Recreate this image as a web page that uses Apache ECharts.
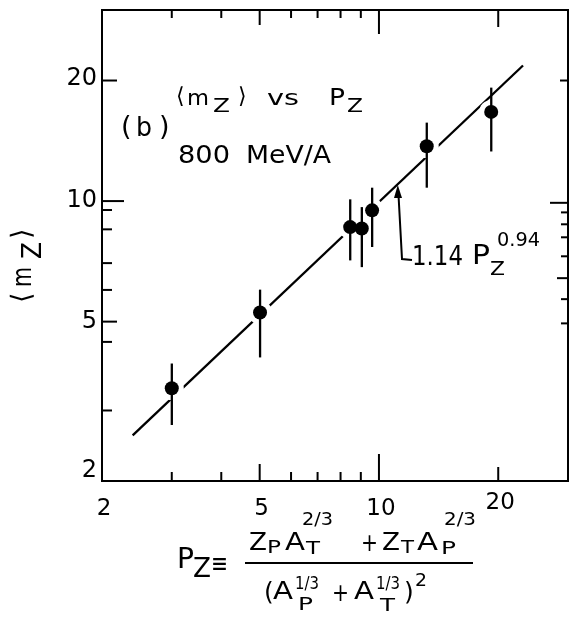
<!DOCTYPE html>
<html><head><meta charset="utf-8">
<script src="https://cdn.jsdelivr.net/npm/echarts@6/dist/echarts.min.js"></script>
<style>html,body{margin:0;padding:0;background:#fff}#c{width:570px;height:618px}</style>
</head><body><div id="c"></div>
<script>
// ---- data ----
const pzValues   = [3.00, 5.01, 8.46, 9.05, 9.61, 13.2, 19.2];
const mzValues   = [3.41, 5.27, 8.61, 8.54, 9.48, 13.7, 16.7];
const mzLow      = [2.76, 4.07, 7.11, 6.84, 7.68, 10.8, 13.3];
const mzHigh     = [3.93, 6.01, 10.1, 9.66, 10.8, 15.7, 19.2];
const fitPz      = [2.39, 23.1];
const fitMz      = [2.60, 21.8];
const xTickVals  = [3, 4, 5, 6, 7, 8, 9, 10, 20];
const xLabelVals = [2, 5, 10, 20];
const xLabels    = ['2', '5', '10', '20'];
const yLeftTicks = [3, 4.45, 5, 6, 7, 8.5, 9.5, 10, 20];
const yRightTicks= [4.95, 5.69, 6.42, 7.28, 8.12, 8.75, 9.37, 9.9, 20];
const yLabelVals = [2, 5, 10, 20];
const yLabels    = ['2', '5', '10', '20'];
const X_MIN = 2, X_MAX = 30, Y_MIN = 2, Y_MAX = 30;

const FONT = 'DejaVu Sans';
const chart = echarts.init(document.getElementById('c'), null, {renderer: 'canvas'});

const mctx = document.createElement('canvas').getContext('2d');
function measure(text, size) { mctx.font = size + 'px "' + FONT + '"'; return mctx.measureText(text).width || size * 0.6; }
function txtStyle(text, size, align) {
  return {text: text, x: 0, y: 0, align: align || 'left', verticalAlign: 'middle', font: size + 'px "' + FONT + '"', fill: '#000'};
}
function T(text, x, y, size, w) {
  const sx = w ? w / measure(text, size) : 1;
  return {type: 'text', x: x, y: y, z: 20, scaleX: sx, style: txtStyle(text, size)};
}

// tick / label table: [x, y, side(0 bottom,1 top,2 left,3 right,4 x label,5 y label), length, labelIndex]
const tickRows = [];
xTickVals.forEach(v => {
  tickRows.push([v, Y_MIN, 0, v === 10 ? 27 : v === 5 ? 17 : v === 20 ? 14 : 9, -1]);
  tickRows.push([v, Y_MAX, 1, v === 10 ? 24 : v === 5 ? 15 : v === 20 ? 17 : 8, -1]);
});
yLeftTicks.forEach(v => tickRows.push([X_MIN, v, 2, v === 10 ? 22 : (v === 5 || v === 20) ? 15 : 10, -1]));
yRightTicks.forEach(v => tickRows.push([X_MAX, v, 3, v === 9.9 ? 18 : v === 6.42 ? 11 : v === 20 ? 8 : 7, -1]));
xLabelVals.forEach((v, i) => tickRows.push([v, Y_MIN, 4, 0, i]));
yLabelVals.forEach((v, i) => tickRows.push([X_MIN, v, 5, 0, i]));

const graphics = [
  T('\u27E8', 176, 97, 22),
  T('m', 187, 99, 22, 22),
  T('Z', 213, 107, 19, 17),
  T('\u27E9', 238, 97, 22),
  T('vs', 267, 99, 22, 32),
  T('P', 329, 99, 23, 16),
  T('Z', 347, 107, 19, 16),
  T('(', 121, 128, 27),
  T('b', 136, 129, 26, 16),
  T(')', 159, 128, 27),
  T('800', 178, 157, 24, 52),
  T('MeV/A', 246, 157, 24, 85),
  T('1.14', 412, 258, 26, 51),
  T('P', 472, 257, 26, 18),
  T('Z', 490, 270, 19, 15),
  T('0.94', 497, 241, 19, 43),
  {type: 'polyline', z: 20, shape: {points: [[412, 260], [402, 259], [398.5, 195]]}, style: {stroke: '#000', lineWidth: 2, fill: null}},
  {type: 'polygon', z: 20, shape: {points: [[397.8, 185], [394, 198], [402, 198]]}, style: {fill: '#000'}},
  {type: 'group', x: 23, y: 302, rotation: Math.PI / 2, z: 20, children: [
    {type: 'text', x: -1, y: 0, style: txtStyle('\u27E8', 27)},
    {type: 'text', x: 15, y: 1, scaleX: 20 / measure('m', 27), style: txtStyle('m', 27)},
    {type: 'text', x: 43, y: 11, scaleX: 17 / measure('Z', 26), style: txtStyle('Z', 26)},
    {type: 'text', x: 63, y: 0, style: txtStyle('\u27E9', 27)}
  ]},
  T('P', 177, 561, 28, 17),
  T('Z', 193, 570, 26, 18),
  T('\u2261', 211, 565, 26, 17),
  {type: 'rect', z: 20, shape: {x: 245, y: 562, width: 228, height: 2}, style: {fill: '#000'}},
  T('Z', 249, 544, 24, 18),
  T('P', 267, 548, 18, 14),
  T('A', 285, 544, 24, 20),
  T('T', 306, 549, 18, 14),
  T('2/3', 302, 520, 18, 31),
  T('+', 361, 545, 24, 17),
  T('Z', 382, 544, 24, 18),
  T('T', 401, 548, 18, 13),
  T('A', 417, 544, 24, 21),
  T('P', 441, 549, 18, 15),
  T('2/3', 444, 520, 18, 32),
  T('(', 264, 593, 25),
  T('A', 273, 593, 24, 20),
  T('1/3', 295, 585, 17, 24),
  T('P', 298, 605, 18, 15),
  T('+', 332, 595, 24, 17),
  T('A', 354, 593, 24, 20),
  T('1/3', 376, 585, 17, 24),
  T('T', 380, 606, 18, 15),
  T(')', 404, 593, 25),
  T('2', 415, 581, 18, 12)
];

const option = {
  backgroundColor: '#fff',
  animation: false,
  grid: {left: 102, right: 2, top: 10, bottom: 137, show: true, borderColor: '#000', borderWidth: 2, backgroundColor: 'transparent'},
  xAxis: {type: 'log', logBase: 10, min: X_MIN, max: X_MAX, axisLine: {show: false}, axisTick: {show: false}, axisLabel: {show: false}, splitLine: {show: false}},
  yAxis: {type: 'log', logBase: 10, min: Y_MIN, max: Y_MAX, axisLine: {show: false}, axisTick: {show: false}, axisLabel: {show: false}, splitLine: {show: false}},
  graphic: graphics,
  series: [
    {type: 'line', data: fitPz.map((x, i) => [x, fitMz[i]]), symbol: 'none', lineStyle: {color: '#000', width: 2.3}, z: 2, silent: true},
    // white gaps in the fit line around each data point
    {type: 'custom', z: 3, silent: true, clip: false,
      data: pzValues.map((x, i) => [x, mzValues[i]]),
      renderItem: (params, api) => {
        const c = api.coord([api.value(0), api.value(1)]);
        return {type: 'group', children: [
          {type: 'circle', shape: {cx: c[0], cy: c[1], r: 12}, style: {fill: '#fff'}}
        ]};
      }},
    // error bars and filled markers
    {type: 'custom', z: 4, silent: true, clip: false,
      data: pzValues.map((x, i) => [x, mzValues[i], mzLow[i], mzHigh[i]]),
      renderItem: (params, api) => {
        const c = api.coord([api.value(0), api.value(1)]);
        const a = api.coord([api.value(0), api.value(2)]);
        const b = api.coord([api.value(0), api.value(3)]);
        return {type: 'group', children: [
          {type: 'rect', shape: {x: a[0] - 1.1, y: b[1], width: 2.3, height: a[1] - b[1]}, style: {fill: '#000'}},
          {type: 'circle', shape: {cx: c[0], cy: c[1], r: 7}, style: {fill: '#000'}}
        ]};
      }},
    // axis ticks on all four sides and tick labels
    {type: 'custom', z: 6, silent: true, clip: false, data: tickRows,
      renderItem: (params, api) => {
        const p = api.coord([api.value(0), api.value(1)]);
        const side = api.value(2), L = api.value(3), li = api.value(4);
        if (side === 4) {
          const t = xLabels[li];
          const s = txtStyle(t, 23, 'center');
          s.x = p[0] + 2; s.y = p[1] + (t === '20' ? 22 : 28);
          return {type: 'group', children: [{type: 'text', style: s}]};
        }
        if (side === 5) {
          const t = yLabels[li];
          const s = txtStyle(t, 24, 'right');
          s.x = p[0] - 5; s.y = p[1] + (t === '2' ? -10 : t === '20' ? -2 : 0);
          return {type: 'group', children: [{type: 'text', style: s}]};
        }
        let r;
        if (side === 0) r = {x: p[0] - 1, y: p[1] - L, width: 2, height: L};
        else if (side === 1) r = {x: p[0] - 1, y: p[1], width: 2, height: L};
        else if (side === 2) r = {x: p[0], y: p[1] - 1, width: L, height: 2};
        else r = {x: p[0] - L, y: p[1] - 1, width: L, height: 2};
        return {type: 'group', children: [{type: 'rect', shape: r, style: {fill: '#000'}}]};
      }}
  ]
};
chart.setOption(option);
</script></body></html>
